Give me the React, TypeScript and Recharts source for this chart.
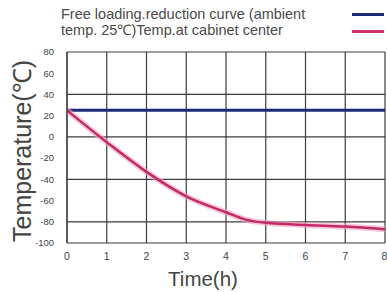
import { LineChart, Line, XAxis, YAxis, CartesianGrid } from "recharts";

// hours since start
const HOURS = [0, 1, 2, 3, 4, 4.5, 5, 6, 7, 8];
// free loading reduction curve, ambient 25℃
const AMBIENT = [25, 25, 25, 25, 25, 25, 25, 25, 25, 25];
// temp. at cabinet center
const CENTER = [25, -5, -33, -56, -71, -78, -81, -83, -84.5, -87];

const X_TICKS = [0, 1, 2, 3, 4, 5, 6, 7, 8];
const Y_TICKS = [-100, -80, -60, -40, -20, 0, 20, 40, 60, 80];

const data = HOURS.map((h, i) => ({ h, ambient: AMBIENT[i], center: CENTER[i] }));

const FONT = '"Liberation Sans", Arial, sans-serif';

export default function App() {
  return (
    <div
      style={{
        position: "absolute",
        left: 0,
        top: 0,
        width: 387,
        height: 292,
        background: "#fff",
        fontFamily: FONT,
        color: "#444",
      }}
    >
      {/* legend */}
      <div style={{ position: "absolute", left: 61, top: 6, fontSize: 14.5, lineHeight: "16px", whiteSpace: "nowrap", color: "#4a4a4a" }}>
        Free loading.reduction curve (ambient
        <br />
        temp. 25℃)Temp.at cabinet center
      </div>
      <div style={{ position: "absolute", left: 352, top: 13, width: 32, height: 3, background: "#1d2a78" }} />
      <div style={{ position: "absolute", left: 352, top: 30, width: 32, height: 3, background: "#d0306e" }} />

      {/* axis titles */}
      <div
        style={{
          position: "absolute",
          left: 22,
          top: 151,
          transform: "translate(-50%, -50%) rotate(-90deg)",
          fontSize: 25,
          lineHeight: "28px",
          whiteSpace: "nowrap",
          color: "#444",
        }}
      >
        Temperature(℃)
      </div>
      <div
        style={{
          position: "absolute",
          left: 203,
          top: 279,
          transform: "translate(-50%, -50%)",
          fontSize: 20.5,
          lineHeight: "22px",
          color: "#444",
        }}
      >
        Time(h)
      </div>

      <LineChart width={387} height={292} data={data} margin={{ top: 52, right: 2, bottom: 29, left: 0 }}>
        <CartesianGrid stroke="#3c3c3c" strokeWidth={1.2} horizontalValues={Y_TICKS} verticalValues={X_TICKS} />
        <XAxis
          dataKey="h"
          type="number"
          domain={[0, 8]}
          ticks={X_TICKS}
          height={20}
          tickLine={false}
          axisLine={{ stroke: "#3c3c3c", strokeWidth: 1.2 }}
          tick={{ fontSize: 10.5, fill: "#444", fontFamily: FONT }}
          tickMargin={4}
        />
        <YAxis
          type="number"
          domain={[-100, 80]}
          ticks={Y_TICKS}
          width={67}
          tickLine={false}
          axisLine={{ stroke: "#3c3c3c", strokeWidth: 1.2 }}
          tick={{ fontSize: 9.5, fill: "#444", fontFamily: FONT }}
          tickMargin={7}
        />
        <Line dataKey="ambient" stroke="#1d2a78" strokeWidth={3} dot={false} isAnimationActive={false} />
        <Line type="monotone" dataKey="center" stroke="#f3a5c4" strokeWidth={6} strokeOpacity={0.6} dot={false} isAnimationActive={false} />
        <Line type="monotone" dataKey="center" stroke="#c42a64" strokeWidth={2.5} dot={false} isAnimationActive={false} />
      </LineChart>
    </div>
  );
}
